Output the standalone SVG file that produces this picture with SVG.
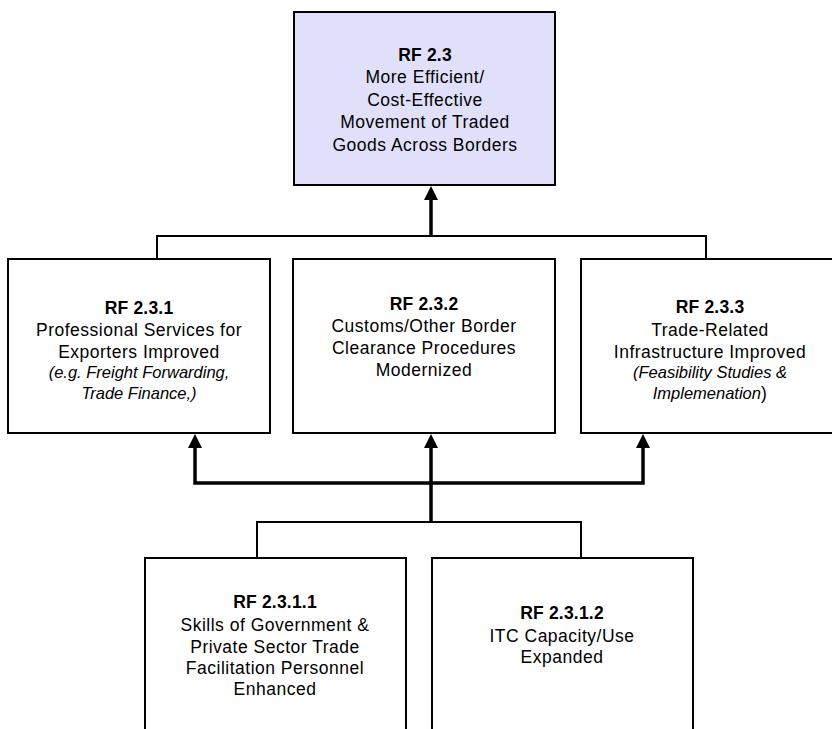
<svg xmlns="http://www.w3.org/2000/svg" width="832" height="729" viewBox="0 0 832 729">
<style>
  .box { fill: #ffffff; stroke: #000; stroke-width: 2; }
  .top { fill: #E0E0FA; stroke: #000; stroke-width: 2; }
  text { font-family: "Liberation Sans", Arial, sans-serif; font-size: 17.5px; fill: #000; text-anchor: middle; letter-spacing: 0.5px; }
  .b { font-weight: bold; letter-spacing: 0.2px; }
  .i { font-style: italic; font-size: 16.5px; letter-spacing: 0; }
  .thin { fill: none; stroke: #000; stroke-width: 2; }
  .thick { fill: none; stroke: #000; stroke-width: 3.5; }
  .head { fill: #000; }
</style>
<rect width="832" height="729" fill="#fff"/>
<g id="connectors">
  <polyline class="thin" points="157,259 157,236 706,236 706,259"/>
  <line class="thick" x1="431" y1="236" x2="431" y2="199"/>
  <polygon class="head" points="431,186 424,200 438,200"/>
  <polyline class="thick" points="195,446 195,483 643,483 643,446"/>
  <polygon class="head" points="195,434 188,448 202,448"/>
  <polygon class="head" points="643,434 636,448 650,448"/>
  <line class="thick" x1="431" y1="522" x2="431" y2="446"/>
  <polygon class="head" points="431,434 424,448 438,448"/>
  <polyline class="thin" points="257,558 257,522 581,522 581,558"/>
</g>
<g id="rf23">
  <rect class="top" x="294" y="12" width="261" height="173"/>
  <text class="b" x="425" y="61">RF 2.3</text>
  <text x="425" y="83">More Efficient/</text>
  <text x="425" y="106">Cost-Effective</text>
  <text x="425" y="128">Movement of Traded</text>
  <text x="425" y="151">Goods Across Borders</text>
</g>
<g id="rf231">
  <rect class="box" x="8" y="259" width="262" height="174"/>
  <text class="b" x="139" y="314">RF 2.3.1</text>
  <text x="139" y="336">Professional Services for</text>
  <text x="139" y="358">Exporters Improved</text>
  <text class="i" x="139" y="378">(e.g. Freight Forwarding,</text>
  <text class="i" x="139" y="399">Trade Finance,)</text>
</g>
<g id="rf232">
  <rect class="box" x="293" y="259" width="262" height="174"/>
  <text class="b" x="424" y="310">RF 2.3.2</text>
  <text x="424" y="332">Customs/Other Border</text>
  <text x="424" y="354">Clearance Procedures</text>
  <text x="424" y="376">Modernized</text>
</g>
<g id="rf233">
  <rect class="box" x="581" y="259" width="260" height="174"/>
  <text class="b" x="710" y="313">RF 2.3.3</text>
  <text x="710" y="336">Trade-Related</text>
  <text x="710" y="358">Infrastructure Improved</text>
  <text class="i" x="710" y="378">(Feasibility Studies &amp;</text>
  <text x="710" y="399"><tspan class="i">Implemenation</tspan>)</text>
</g>
<g id="rf2311">
  <rect class="box" x="145" y="558" width="261" height="190"/>
  <text class="b" x="275" y="608">RF 2.3.1.1</text>
  <text x="275" y="631">Skills of Government &amp;</text>
  <text x="275" y="653">Private Sector Trade</text>
  <text x="275" y="674">Facilitation Personnel</text>
  <text x="275" y="695">Enhanced</text>
</g>
<g id="rf2312">
  <rect class="box" x="432" y="558" width="261" height="190"/>
  <text class="b" x="562" y="619">RF 2.3.1.2</text>
  <text x="562" y="642">ITC Capacity/Use</text>
  <text x="562" y="663">Expanded</text>
</g>
</svg>
